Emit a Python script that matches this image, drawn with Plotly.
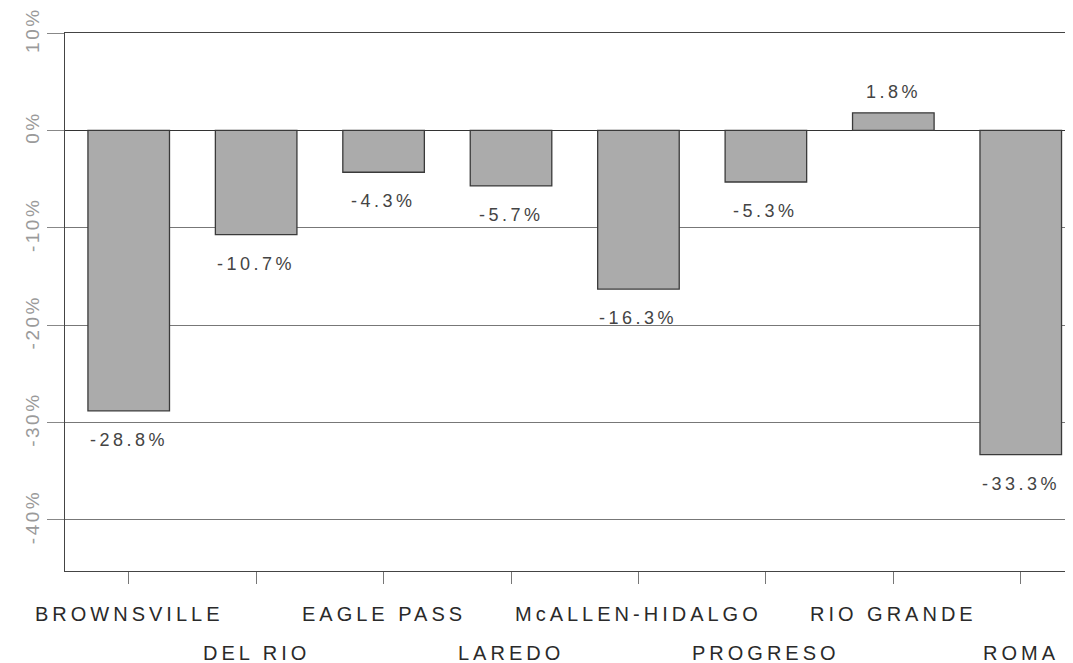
import plotly.graph_objects as go

# ports of entry and percent change
ports = ["BROWNSVILLE", "DEL RIO", "EAGLE PASS", "LAREDO",
         "McALLEN-HIDALGO", "PROGRESO", "RIO GRANDE", "ROMA"]
pct_change = [-28.8, -10.7, -4.3, -5.7, -16.3, -5.3, 1.8, -33.3]
y_ticks = [10, 0, -10, -20, -30, -40]
y_tick_labels = ["10%", "0%", "-10%", "-20%", "-30%", "-40%"]

FONT = "Liberation Sans, Arial, Helvetica, sans-serif"


def spaced(txt, px):
    # the original scan is stretched wide, so fake it with letter spacing
    return f'<span style="letter-spacing:{px}px">{txt}</span>'


fig = go.Figure()

fig.add_trace(
    go.Bar(
        x=ports, y=pct_change, width=0.64,
        marker=dict(color="#ababab", line=dict(color="#3a3a3a", width=1.3)),
        hoverinfo="skip",
    )
)

annotations = []
for i, (port, val) in enumerate(zip(ports, pct_change)):
    # value labels under (or above) each bar
    annotations.append(dict(
        x=port, y=val, xref="x", yref="y", showarrow=False,
        text=spaced(f"{val:.1f}%", 3.5), yshift=-29 if val < 0 else 21,
        font=dict(family=FONT, size=18, color="#444444"),
    ))
    # staggered category labels
    annotations.append(dict(
        x=port, y=0, xref="x", yref="paper", showarrow=False,
        text=spaced(port, 4), yanchor="middle",
        yshift=-43 if i % 2 == 0 else -82,
        font=dict(family=FONT, size=20, color="#2a2a2a"),
    ))

# the page body adds an 8px offset, so the figure is sized a bit smaller
fig.update_layout(
    width=1065, height=655,
    margin=dict(l=57, r=0, t=25, b=92),
    paper_bgcolor="white", plot_bgcolor="white",
    showlegend=False,
    annotations=annotations,
    font=dict(family=FONT),
)

fig.update_xaxes(
    range=[-0.5, 7.41], showticklabels=False,
    showline=True, linecolor="#444444", linewidth=1, mirror=True,
    ticks="outside", ticklen=12, tickcolor="#777777", tickwidth=1,
    showgrid=False,
)

fig.update_yaxes(
    range=[-45.25, 10],
    tickvals=y_ticks,
    ticktext=[spaced(t, 2.5) for t in y_tick_labels],
    tickangle=-90,
    ticklabeloverflow="allow",
    tickfont=dict(family=FONT, size=19, color="#9a9a9a"),
    ticks="outside", ticklen=17, tickcolor="#888888", tickwidth=1,
    showline=True, linecolor="#444444", linewidth=1,
    showgrid=True, gridcolor="#777777", gridwidth=1,
    zeroline=True, zerolinecolor="#333333", zerolinewidth=1,
)

fig.write_html("out.html")
